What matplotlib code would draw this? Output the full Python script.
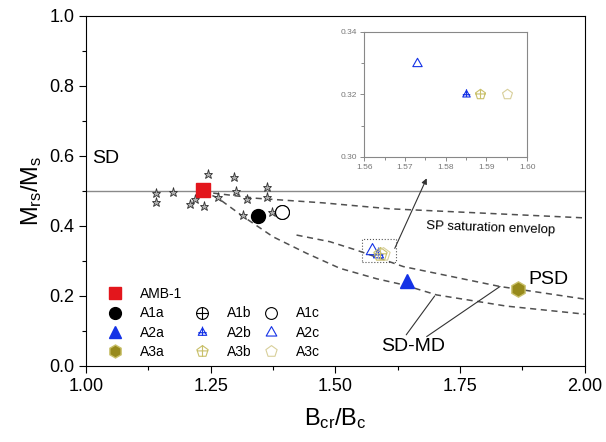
import numpy as np
import matplotlib
matplotlib.use('Agg')
from matplotlib import pyplot as plt
from matplotlib.path import Path
from matplotlib.lines import Line2D

plt.rcParams['font.family'] = ['Liberation Sans', 'DejaVu Sans']
plt.rcParams['mathtext.default'] = 'regular'

# gray star points (literature SD data)
star_x = [1.140, 1.140, 1.174, 1.244, 1.208, 1.218, 1.237, 1.265, 1.297, 1.300, 1.322, 1.315, 1.363, 1.362, 1.372]
star_y = [0.493, 0.468, 0.496, 0.549, 0.463, 0.476, 0.457, 0.484, 0.539, 0.499, 0.476, 0.431, 0.511, 0.484, 0.441]

# samples
names = ['AMB-1', 'A1a', 'A1b', 'A1c', 'A2a', 'A2b', 'A2c', 'A3a', 'A3b', 'A3c']
bcr_bc = [1.234, 1.345, 1.392, 1.392, 1.643, 1.585, 1.573, 1.866, 1.5885, 1.595]
mrs_ms = [0.502, 0.429, 0.440, 0.440, 0.243, 0.320, 0.330, 0.220, 0.320, 0.320]

# Dunlop curves
sp_x = [1.234, 1.248, 1.342, 1.475, 1.609, 1.790, 2.0]
sp_y = [0.500, 0.495, 0.479, 0.466, 0.449, 0.437, 0.423]
sdmd1_x = [1.234, 1.265, 1.315, 1.375, 1.442, 1.509, 1.583, 1.636, 1.703, 1.843, 2.0]
sdmd1_y = [0.500, 0.479, 0.427, 0.369, 0.322, 0.279, 0.249, 0.232, 0.203, 0.171, 0.148]
sdmd2_x = [1.422, 1.489, 1.542, 1.636, 1.830, 2.0]
sdmd2_y = [0.374, 0.355, 0.331, 0.284, 0.227, 0.191]


def with_plus(base, hx=1.0, vy=(-1.0, 1.0), hy=0.0):
    plus = Path([(-hx, hy), (hx, hy), (0, vy[0]), (0, vy[1])],
                [Path.MOVETO, Path.LINETO, Path.MOVETO, Path.LINETO])
    return Path.make_compound_path(base, plus)


tri = Path([(0, 1), (-0.9, -0.6), (0.9, -0.6), (0, 1)], closed=True)
ang = np.pi / 2 + np.arange(6) * 2 * np.pi / 5
pent = Path(np.column_stack([np.cos(ang), np.sin(ang)]), closed=True)
circ_plus = with_plus(Path.unit_circle())
tri_plus = with_plus(tri, hx=0.9, vy=(-0.6, 1.25), hy=-0.05)
pent_plus = with_plus(pent, hx=0.95, vy=(-0.8, 1.0), hy=0.1)

red = '#e3161c'
blue = '#1432e6'
olive = '#978a1c'
yel = '#c9c06a'
yel2 = '#d8cf9a'

styles = {
    'AMB-1': dict(marker='s', mfc=red, mec=red, ms=10),
    'A1a': dict(marker='o', mfc='black', mec='black', ms=10),
    'A1b': dict(marker=circ_plus, mfc='none', mec='black', ms=10, mew=0.8),
    'A1c': dict(marker='o', mfc='white', mec='black', ms=10, mew=0.8),
    'A2a': dict(marker='^', mfc=blue, mec=blue, ms=10),
    'A2b': dict(marker=tri_plus, mfc='none', mec=blue, ms=10, mew=0.8),
    'A2c': dict(marker=tri, mfc='none', mec=blue, ms=10, mew=0.8),
    'A3a': dict(marker='h', mfc=olive, mec=yel, ms=11),
    'A3b': dict(marker=pent_plus, mfc='none', mec=yel, ms=10, mew=0.8),
    'A3c': dict(marker=pent, mfc='none', mec=yel2, ms=10, mew=0.8),
}

fig = plt.figure(figsize=(6.06, 4.42), dpi=100)
ax = fig.add_axes([0.142, 0.172, 0.823, 0.792])

ax.axhline(0.5, color='#8a8a8a', lw=1.0, zorder=1)
dash = dict(color='#505050', lw=1.1, linestyle=(0, (4, 3)), zorder=2)
ax.plot(sp_x, sp_y, **dash)
ax.plot(sdmd1_x, sdmd1_y, **dash)
ax.plot(sdmd2_x, sdmd2_y, **dash)

ax.plot(star_x, star_y, linestyle='none', marker='*', ms=6.5, mfc='#b0b0b0',
        mec='#303030', mew=0.6, zorder=3)

handles = {}
for n, x, y in zip(names, bcr_bc, mrs_ms):
    h, = ax.plot([x], [y], linestyle='none', label=n, zorder=4, **styles[n])
    handles[n] = h

# dotted zoom box and arrow
ax.plot([1.553, 1.622, 1.622, 1.553, 1.553], [0.298, 0.298, 0.362, 0.362, 0.298],
        color='#555555', lw=0.8, linestyle=':', zorder=3)
ax.annotate('', xy=(1.683, 0.536), xytext=(1.619, 0.336),
            arrowprops=dict(arrowstyle='-|>', color='#333333', lw=0.8,
                            mutation_scale=8, shrinkA=0, shrinkB=0))

line = dict(arrowstyle='-', color='#333333', lw=0.8, shrinkA=0, shrinkB=0)
ax.annotate('', xy=(1.699, 0.200), xytext=(1.642, 0.089), arrowprops=line)
ax.annotate('', xy=(1.830, 0.227), xytext=(1.683, 0.084), arrowprops=line)
ax.text(1.655, 0.055, 'SD-MD', fontsize=14, ha='center', va='center')
ax.text(1.886, 0.247, 'PSD', fontsize=14, ha='left', va='center')
ax.text(1.012, 0.594, 'SD', fontsize=14, ha='left', va='center')
ax.text(1.812, 0.394, 'SP saturation envelop', fontsize=9.5, ha='center',
        va='center', rotation=-2)

ax.set_xlim(1.0, 2.0)
ax.set_ylim(0.0, 1.0)
ax.set_xticks(np.arange(1.0, 2.01, 0.25))
ax.set_xticks(np.arange(1.125, 2.0, 0.25), minor=True)
ax.set_yticks(np.arange(0, 1.01, 0.2))
ax.set_yticks(np.arange(0.1, 1.0, 0.2), minor=True)
ax.xaxis.set_major_formatter(matplotlib.ticker.FormatStrFormatter('%.2f'))
ax.yaxis.set_major_formatter(matplotlib.ticker.FormatStrFormatter('%.1f'))
ax.tick_params(which='both', direction='out', labelsize=13, top=False, right=False)
ax.tick_params(which='major', length=5, width=0.8)
ax.tick_params(which='minor', length=3, width=0.8)
ax.set_xlabel(r'B$_{cr}$/B$_c$', fontsize=17, labelpad=8)
ax.set_ylabel(r'M$_{rs}$/M$_s$', fontsize=17, labelpad=4)

blank = Line2D([], [], linestyle='none')
order = [handles['AMB-1'], handles['A1a'], handles['A2a'], handles['A3a'],
         blank, handles['A1b'], handles['A2b'], handles['A3b'],
         blank, handles['A1c'], handles['A2c'], handles['A3c']]
labels = ['AMB-1', 'A1a', 'A2a', 'A3a', '', 'A1b', 'A2b', 'A3b', '', 'A1c', 'A2c', 'A3c']
ax.legend(order, labels, ncol=3, loc='lower left', bbox_to_anchor=(0.045, 0.02),
          frameon=False, fontsize=10, handlelength=1.0, handletextpad=1.3,
          columnspacing=0.9, labelspacing=0.38, borderpad=0, borderaxespad=0,
          markerscale=0.85)

# inset
ins = fig.add_axes([0.601, 0.645, 0.269, 0.283])
for n in ['A2b', 'A2c', 'A3b', 'A3c']:
    i = names.index(n)
    st = dict(styles[n])
    st['ms'] = 7.5
    ins.plot([bcr_bc[i]], [mrs_ms[i]], linestyle='none', **st)
ins.set_xlim(1.56, 1.60)
ins.set_ylim(0.30, 0.34)
ins.set_xticks(np.arange(1.56, 1.601, 0.01))
ins.set_xticks(np.arange(1.565, 1.60, 0.01), minor=True)
ins.set_yticks([0.30, 0.32, 0.34])
ins.set_yticks([0.31, 0.33], minor=True)
ins.xaxis.set_major_formatter(matplotlib.ticker.FormatStrFormatter('%.2f'))
ins.yaxis.set_major_formatter(matplotlib.ticker.FormatStrFormatter('%.2f'))
ins.tick_params(which='both', direction='out', labelsize=6, colors='#777777',
                top=False, right=False, pad=2)
ins.tick_params(which='major', length=3, width=0.6)
ins.tick_params(which='minor', length=2, width=0.6)
for s in ins.spines.values():
    s.set_color('#888888')
    s.set_linewidth(0.8)

fig.savefig('out.png', dpi=100)
